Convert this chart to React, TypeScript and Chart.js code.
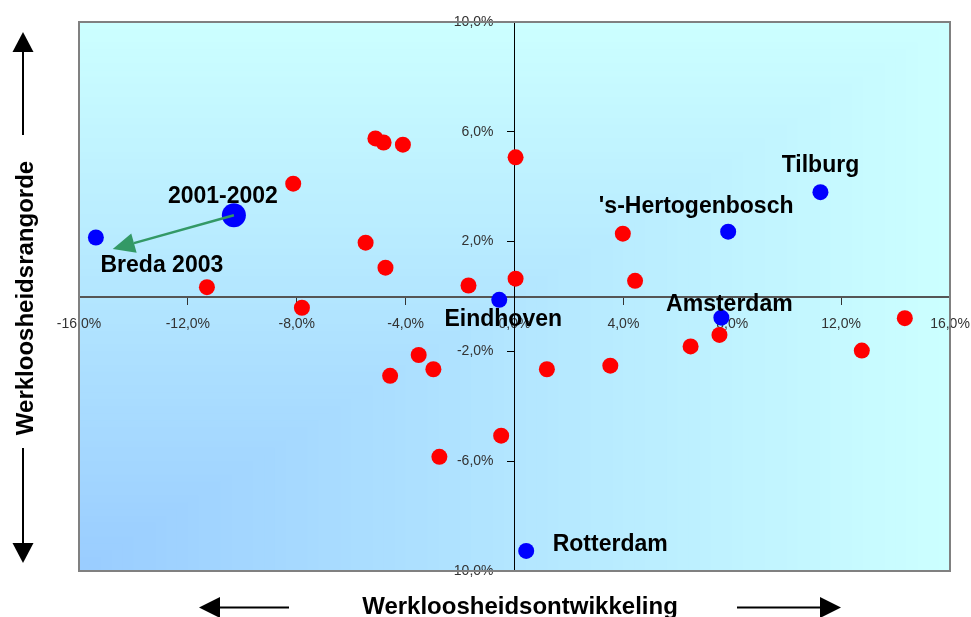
import React, { useEffect, useRef } from 'react';
import { Chart, registerables } from 'chart.js';
Chart.register(...registerables);

// Other cities (red)
const otherX = [-5.11, -4.81, -4.10, -8.13, 0.04, -5.47, -4.74, -11.30, -7.81, -1.69, 0.04, 3.98, 4.43, -3.52, -2.98, -4.57, 1.19, 3.52, -0.49, -2.76, 6.47, 7.53, 12.76, 14.34];
const otherY = [5.76, 5.61, 5.53, 4.11, 5.07, 1.96, 1.05, 0.34, -0.41, 0.40, 0.65, 2.29, 0.57, -2.13, -2.65, -2.89, -2.65, -2.52, -5.07, -5.84, -1.82, -1.40, -1.97, -0.79];

// Named cities (blue)
const cityNames = ['Breda 2003', 'Tilburg', "'s-Hertogenbosch", 'Amsterdam', 'Eindhoven', 'Rotterdam'];
const cityX = [-15.38, 11.24, 7.85, 7.60, -0.56, 0.43];
const cityY = [2.15, 3.80, 2.36, -0.77, -0.12, -9.27];

// Breda previous period (big blue)
const prevNames = ['2001-2002'];
const prevX = [-10.31];
const prevY = [2.96];

// Arrow (data coordinates)
const arrowFrom = [-10.31, 2.96];
const arrowTo = [-14.76, 1.73];

// Axis settings
const xMin = -16, xMax = 16, xStep = 4;
const yMin = -10, yMax = 10, yStep = 4;
const xTitle = 'Werkloosheidsontwikkeling';
const yTitle = 'Werkloosheidsrangorde';

// label pixel offsets (style only)
const cityLabelOffsets: Record<string, [number, number]> = {
  'Breda 2003': [66, 27],
  'Tilburg': [0, -28],
  "'s-Hertogenbosch": [-32, -27],
  'Amsterdam': [8, -15],
  'Eindhoven': [4, 18],
  'Rotterdam': [84, -8],
  '2001-2002': [-11, -20],
};

const FONT = '"Liberation Sans", Arial, sans-serif';

function fmt(v: number) {
  return v.toFixed(1).replace('.', ',') + '%';
}

const bgPlugin = {
  id: 'bgCorner',
  beforeDraw(chart: any) {
    const { ctx, chartArea } = chart;
    const { left, top, right, bottom } = chartArea;
    const W = right - left, H = bottom - top;
    const light = [204, 255, 255];
    const dark = [153, 204, 255];
    const N = 80;
    ctx.save();
    for (let i = 0; i < N; i++) {
      const s = 1 - i / N;
      const c = dark.map((d, k) => Math.round(d + (light[k] - d) * s));
      ctx.fillStyle = `rgb(${c[0]},${c[1]},${c[2]})`;
      ctx.fillRect(left, bottom - H * s, W * s, H * s);
    }
    ctx.restore();
  },
  afterDraw(chart: any) {
    const { ctx, chartArea } = chart;
    const { left, top, right, bottom } = chartArea;
    ctx.save();
    ctx.strokeStyle = '#808080';
    ctx.lineWidth = 2;
    ctx.strokeRect(left, top, right - left, bottom - top);
    ctx.restore();
  },
};

const overlayPlugin = {
  id: 'overlay',
  afterDatasetsDraw(chart: any) {
    const { ctx } = chart;
    const xs = chart.scales.x, ys = chart.scales.y;
    ctx.save();
    // y tick labels, placed left of the crossing axis
    const axisX = xs.getPixelForValue(0);
    ctx.font = `14px ${FONT}`;
    ctx.fillStyle = '#333';
    ctx.textAlign = 'right';
    ctx.textBaseline = 'middle';
    ys.ticks.forEach((t: any) => {
      ctx.fillText(fmt(t.value), axisX - 21, ys.getPixelForValue(t.value));
    });

    // arrow
    const x1 = xs.getPixelForValue(arrowFrom[0]);
    const y1 = ys.getPixelForValue(arrowFrom[1]);
    const x2 = xs.getPixelForValue(arrowTo[0]);
    const y2 = ys.getPixelForValue(arrowTo[1]);
    const ang = Math.atan2(y2 - y1, x2 - x1);
    const hl = 22, hw = 10;
    const bx = x2 - hl * Math.cos(ang), by = y2 - hl * Math.sin(ang);
    ctx.strokeStyle = '#339966';
    ctx.fillStyle = '#339966';
    ctx.lineWidth = 2.5;
    ctx.beginPath();
    ctx.moveTo(x1, y1);
    ctx.lineTo(bx, by);
    ctx.stroke();
    ctx.beginPath();
    ctx.moveTo(x2, y2);
    ctx.lineTo(bx + hw * Math.sin(ang), by - hw * Math.cos(ang));
    ctx.lineTo(bx - hw * Math.sin(ang), by + hw * Math.cos(ang));
    ctx.closePath();
    ctx.fill();

    // labels
    ctx.font = `bold 23px ${FONT}`;
    ctx.fillStyle = '#000';
    ctx.textAlign = 'center';
    ctx.textBaseline = 'alphabetic';
    const drawLabel = (name: string, vx: number, vy: number) => {
      const off = cityLabelOffsets[name] || [0, -20];
      const px = xs.getPixelForValue(vx) + off[0];
      const py = ys.getPixelForValue(vy) + off[1] + 8;
      ctx.fillText(name, px, py);
    };
    prevNames.forEach((n, i) => drawLabel(n, prevX[i], prevY[i]));
    cityNames.forEach((n, i) => drawLabel(n, cityX[i], cityY[i]));
    ctx.restore();
  },
  afterDraw(chart: any) {
    const { ctx } = chart;
    ctx.save();
    ctx.fillStyle = '#000';
    ctx.strokeStyle = '#000';
    ctx.lineWidth = 2;
    // x title
    ctx.font = `bold 24px ${FONT}`;
    ctx.textAlign = 'center';
    ctx.textBaseline = 'alphabetic';
    ctx.fillText(xTitle, 520, 614);
    // y title
    ctx.save();
    ctx.translate(33, 298);
    ctx.rotate(-Math.PI / 2);
    ctx.fillText(yTitle, 0, 0);
    ctx.restore();
    // arrows
    const hArrow = (sx: number, ex: number, y: number) => {
      const dir = Math.sign(ex - sx);
      const base = ex - dir * 21;
      ctx.beginPath();
      ctx.moveTo(sx, y);
      ctx.lineTo(base, y);
      ctx.stroke();
      ctx.beginPath();
      ctx.moveTo(ex, y);
      ctx.lineTo(base, y - 10.5);
      ctx.lineTo(base, y + 10.5);
      ctx.closePath();
      ctx.fill();
    };
    const vArrow = (sy: number, ey: number, x: number) => {
      const dir = Math.sign(ey - sy);
      const base = ey - dir * 20;
      ctx.beginPath();
      ctx.moveTo(x, sy);
      ctx.lineTo(x, base);
      ctx.stroke();
      ctx.beginPath();
      ctx.moveTo(x, ey);
      ctx.lineTo(x - 10.5, base);
      ctx.lineTo(x + 10.5, base);
      ctx.closePath();
      ctx.fill();
    };
    hArrow(289, 199, 607.5);
    hArrow(737, 841, 607.5);
    vArrow(135, 32, 23);
    vArrow(448, 563, 23);
    ctx.restore();
  },
};

export default function App() {
  const ref = useRef<HTMLCanvasElement>(null);
  useEffect(() => {
    if (!ref.current) return;
    const chart = new Chart(ref.current, {
      type: 'scatter',
      data: {
        datasets: [
          {
            label: 'Overige gemeenten',
            data: otherX.map((x, i) => ({ x, y: otherY[i] })),
            backgroundColor: '#FF0000',
            borderColor: '#FF0000',
            pointRadius: 8,
            borderWidth: 0,
          },
          {
            label: 'Steden',
            data: cityX.map((x, i) => ({ x, y: cityY[i] })),
            backgroundColor: '#0000FF',
            borderColor: '#0000FF',
            pointRadius: 8,
            borderWidth: 0,
          },
          {
            label: 'Breda 2001-2002',
            data: prevX.map((x, i) => ({ x, y: prevY[i] })),
            backgroundColor: '#0000FF',
            borderColor: '#0000FF',
            pointRadius: 12,
            borderWidth: 0,
          },
        ],
      },
      options: {
        animation: false,
        responsive: false,
        layout: { padding: { left: 79, right: 21, top: 22, bottom: 46 } },
        plugins: {
          legend: { display: false },
          tooltip: { enabled: false },
        },
        scales: {
          x: {
            type: 'linear',
            position: { y: 0 } as any,
            min: xMin,
            max: xMax,
            afterFit: (s: any) => { s.paddingLeft = 0; s.paddingRight = 0; s.paddingTop = 0; s.paddingBottom = 0; },
            grid: { drawOnChartArea: false, drawTicks: true, tickLength: 7, color: '#333', lineWidth: 1 },
            border: { display: true, color: '#555', width: 2 },
            ticks: {
              stepSize: xStep,
              autoSkip: false,
              maxRotation: 0,
              padding: 12,
              color: '#333',
              font: { family: FONT, size: 14 },
              callback: (v: any) => fmt(Number(v)),
            },
          },
          y: {
            type: 'linear',
            position: { x: 0 } as any,
            min: yMin,
            max: yMax,
            afterFit: (s: any) => { s.paddingLeft = 0; s.paddingRight = 0; s.paddingTop = 0; s.paddingBottom = 0; },
            grid: { drawOnChartArea: false, drawTicks: true, tickLength: 7, color: '#000', lineWidth: 1 },
            border: { display: true, color: '#000', width: 1 },
            ticks: {
              stepSize: yStep,
              autoSkip: false,
              display: false,
              font: { family: FONT, size: 14 },
            },
          },
        },
      },
      plugins: [bgPlugin, overlayPlugin],
    });
    return () => chart.destroy();
  }, []);
  return (
    <div style={{ position: 'absolute', left: 0, top: 0, width: 971, height: 617, background: '#fff' }}>
      <canvas ref={ref} width={971} height={617} style={{ display: 'block' }} />
    </div>
  );
}
